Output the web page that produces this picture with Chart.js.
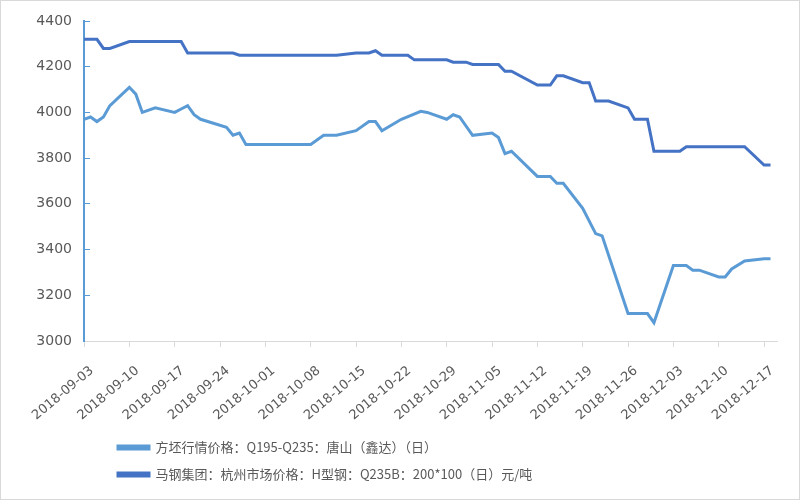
<!DOCTYPE html>
<html>
<head>
<meta charset="utf-8">
<script src="https://cdn.jsdelivr.net/npm/chart.js@4.4.0/dist/chart.umd.min.js"></script>
<style>
  html, body { margin: 0; padding: 0; background: #fff; }
  #wrap { width: 800px; height: 500px; box-sizing: border-box; border: 1px solid #d9d9d9; }
</style>
</head>
<body>
<div id="wrap"><canvas id="priceChart"></canvas></div>
<script>
// weekly tick labels on the date axis
const tickLabels = ['2018-09-03', '2018-09-10', '2018-09-17', '2018-09-24', '2018-10-01', '2018-10-08',
  '2018-10-15', '2018-10-22', '2018-10-29', '2018-11-05', '2018-11-12', '2018-11-19',
  '2018-11-26', '2018-12-03', '2018-12-10', '2018-12-17'];

// 方坯 (light blue)
const billetDates = ['2018-09-03', '2018-09-04', '2018-09-05', '2018-09-06', '2018-09-07', '2018-09-10',
  '2018-09-11', '2018-09-12', '2018-09-14', '2018-09-17', '2018-09-18', '2018-09-19', '2018-09-20',
  '2018-09-21', '2018-09-25', '2018-09-26', '2018-09-27', '2018-09-28', '2018-10-08', '2018-10-10',
  '2018-10-12', '2018-10-15', '2018-10-17', '2018-10-18', '2018-10-19', '2018-10-22', '2018-10-25',
  '2018-10-26', '2018-10-29', '2018-10-30', '2018-10-31', '2018-11-02', '2018-11-05', '2018-11-06',
  '2018-11-07', '2018-11-08', '2018-11-12', '2018-11-14', '2018-11-15', '2018-11-16', '2018-11-19',
  '2018-11-21', '2018-11-22', '2018-11-26', '2018-11-29', '2018-11-30', '2018-12-03', '2018-12-05',
  '2018-12-06', '2018-12-07', '2018-12-10', '2018-12-11', '2018-12-12', '2018-12-14', '2018-12-17',
  '2018-12-18'];
const billetValues = [3970, 3980, 3960, 3980, 4030, 4110,
  4080, 4000, 4020, 4000, 4015, 4030, 3990,
  3970, 3935, 3900, 3910, 3860, 3860, 3900,
  3900, 3920, 3960, 3960, 3920, 3970, 4005,
  4000, 3970, 3990, 3980, 3900, 3910, 3890,
  3820, 3830, 3720, 3720, 3690, 3690, 3580,
  3470, 3460, 3120, 3120, 3080, 3330, 3330,
  3310, 3310, 3280, 3280, 3315, 3350, 3360,
  3360];

// 马钢 H型钢 (dark blue)
const hbeamDates = ['2018-09-03', '2018-09-05', '2018-09-06', '2018-09-07', '2018-09-10', '2018-09-18',
  '2018-09-19', '2018-09-26', '2018-09-27', '2018-10-12', '2018-10-15', '2018-10-17', '2018-10-18',
  '2018-10-19', '2018-10-23', '2018-10-24', '2018-10-29', '2018-10-30', '2018-11-01', '2018-11-02',
  '2018-11-06', '2018-11-07', '2018-11-08', '2018-11-12', '2018-11-14', '2018-11-15', '2018-11-16',
  '2018-11-19', '2018-11-20', '2018-11-21', '2018-11-23', '2018-11-26', '2018-11-27', '2018-11-29',
  '2018-11-30', '2018-12-04', '2018-12-05', '2018-12-14', '2018-12-17', '2018-12-18'];
const hbeamValues = [4320, 4320, 4280, 4280, 4310, 4310,
  4260, 4260, 4250, 4250, 4260, 4260, 4270,
  4250, 4250, 4230, 4230, 4220, 4220, 4210,
  4210, 4180, 4180, 4120, 4120, 4160, 4160,
  4130, 4130, 4050, 4050, 4020, 3970, 3970,
  3830, 3830, 3850, 3850, 3770, 3770];

const seriesNames = [
  '方坯行情价格：Q195-Q235：唐山（鑫达）（日）',
  '马钢集团：杭州市场价格：H型钢：Q235B：200*100（日）元/吨'
];

const startDay = Date.parse(tickLabels[0]);
function toPoints(dates, values) {
  return dates.map((d, i) => ({ x: (Date.parse(d) - startDay) / 86400000, y: values[i] }));
}

const textColor = '#595959';

// nudge the legend to the right, as in the original
const legendShift = {
  id: 'legendShift',
  afterLayout(chart) {
    chart.legend.left += 20;
    chart.legend.right += 20;
  }
};

const ctx = document.getElementById('priceChart').getContext('2d');
new Chart(ctx, {
  type: 'line',
  data: {
    datasets: [{
      label: seriesNames[0],
      data: toPoints(billetDates, billetValues),
      borderColor: '#5B9BD5',
      backgroundColor: '#5B9BD5',
      borderWidth: 3,
      pointRadius: 0,
      tension: 0
    }, {
      label: seriesNames[1],
      data: toPoints(hbeamDates, hbeamValues),
      borderColor: '#4472C4',
      backgroundColor: '#4472C4',
      borderWidth: 3,
      pointRadius: 0,
      tension: 0
    }]
  },
  options: {
    responsive: true,
    maintainAspectRatio: false,
    animation: false,
    layout: { padding: { top: 20, right: 22, left: 10, bottom: 8 } },
    scales: {
      x: {
        type: 'linear',
        min: 0,
        max: 107,
        afterBuildTicks: (axis) => { axis.ticks = tickLabels.map((_, i) => ({ value: i * 7 })); },
        afterFit: (axis) => { axis.height = 86; },
        border: { color: '#D9D9D9', width: 1 },
        grid: { drawOnChartArea: false, color: '#D9D9D9', tickLength: 6 },
        ticks: {
          autoSkip: false,
          minRotation: 40,
          maxRotation: 40,
          padding: 16,
          labelOffset: 8,
          color: textColor,
          font: { family: 'DejaVu Sans', size: 13 },
          callback: (v) => tickLabels[Math.round(v / 7)]
        }
      },
      y: {
        min: 3000,
        max: 4400,
        afterFit: (axis) => { axis.width = 73; axis.paddingTop = 0; axis.paddingBottom = 0; },
        border: { color: '#5B9BD5', width: 2 },
        grid: { drawOnChartArea: false, color: '#5B9BD5', tickLength: -6 },
        ticks: {
          stepSize: 200,
          padding: 18,
          color: textColor,
          font: { family: 'DejaVu Sans', size: 14 },
          callback: (v) => String(v)
        }
      }
    },
    plugins: {
      legend: {
        position: 'bottom',
        align: 'start',
        fullSize: false,
        labels: {
          boxWidth: 31,
          boxHeight: 3,
          padding: 14,
          color: textColor,
          font: { family: '"Noto Sans CJK SC", "DejaVu Sans"', size: 13 }
        }
      },
      tooltip: { enabled: false }
    }
  },
  plugins: [legendShift]
});
</script>
</body>
</html>
